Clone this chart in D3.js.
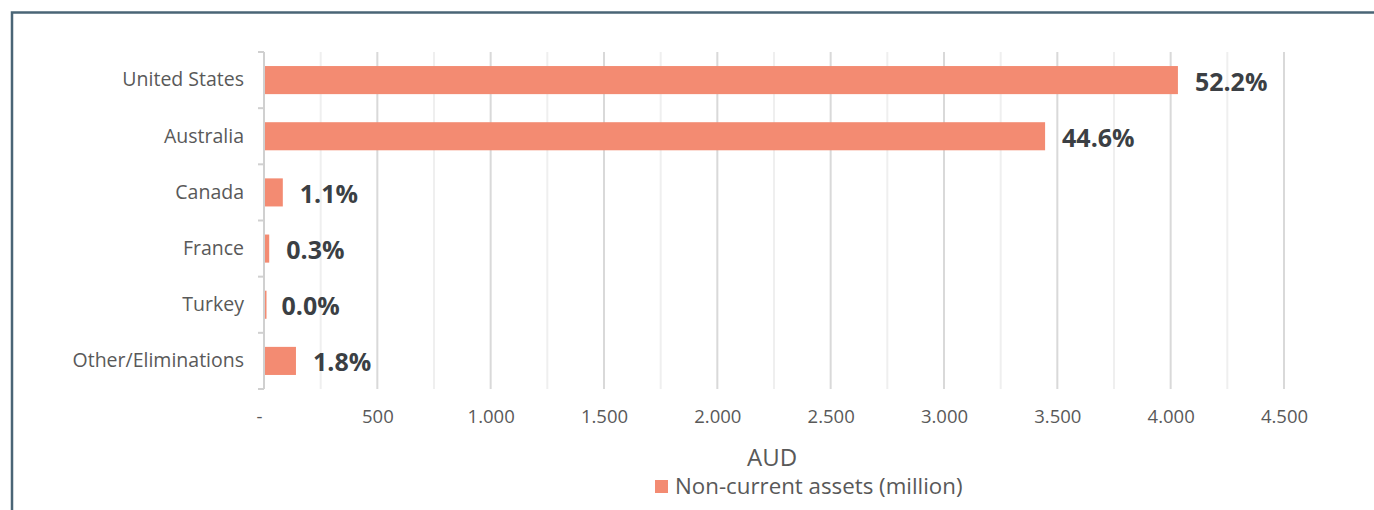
<!DOCTYPE html>
<html>
<head>
<meta charset="utf-8">
<script src="https://cdn.jsdelivr.net/npm/d3@7/dist/d3.min.js"></script>
<style>
  html, body { margin: 0; padding: 0; background: #fff; }
  svg { display: block; font-family: "Open Sans", "Noto Sans", sans-serif; }
</style>
</head>
<body>
<svg id="chart" width="1374" height="510"></svg>
<script>
// Non-current assets by region (AUD million)
const categories = ["United States", "Australia", "Canada", "France", "Turkey", "Other/Eliminations"];
const assetValues = [4032, 3446, 83, 23, 2, 141];
const shareLabels = ["52.2%", "44.6%", "1.1%", "0.3%", "0.0%", "1.8%"];
const xTickValues = [0, 500, 1000, 1500, 2000, 2500, 3000, 3500, 4000, 4500];
const xTickLabels = ["-", "500", "1.000", "1.500", "2.000", "2.500", "3.000", "3.500", "4.000", "4.500"];
const minorGridValues = [250, 750, 1250, 1750, 2250, 2750, 3250, 3750, 4250];
const seriesName = "Non-current assets (million)";
const axisTitle = "AUD";

const svg = d3.select("#chart");
const barColor = "#f38b72";
const textGray = "#595959";

// Outer frame (open on the right and bottom)
svg.append("rect")
  .attr("x", 12).attr("y", 12.5)
  .attr("width", 1400).attr("height", 520)
  .attr("fill", "none")
  .attr("stroke", "#4a6576")
  .attr("stroke-width", 2.5);

const plot = { left: 264, right: 1284, top: 52, bottom: 389 };

const x = d3.scaleLinear().domain([0, 4500]).range([plot.left, plot.right]);
const y = d3.scaleBand().domain(categories).range([plot.top, plot.bottom]).paddingInner(0.5).paddingOuter(0.25);
const yTicks = d3.scaleBand().domain(categories).range([plot.top, plot.bottom]);

// Gridlines
svg.append("g").selectAll("line").data(minorGridValues).join("line")
  .attr("x1", d => x(d)).attr("x2", d => x(d))
  .attr("y1", plot.top).attr("y2", plot.bottom)
  .attr("stroke", "#efefef").attr("stroke-width", 2);
svg.append("g").selectAll("line").data(xTickValues.slice(1)).join("line")
  .attr("x1", d => x(d)).attr("x2", d => x(d))
  .attr("y1", plot.top).attr("y2", plot.bottom)
  .attr("stroke", "#d9d9d9").attr("stroke-width", 2);

// X tick labels
const xAxis = d3.axisBottom(x)
  .tickValues(xTickValues)
  .tickSize(0)
  .tickPadding(0)
  .tickFormat((d, i) => xTickLabels[i]);
const gx = svg.append("g").attr("transform", `translate(0, ${plot.bottom + 21})`).call(xAxis);
gx.select(".domain").remove();
gx.selectAll("text")
  .attr("font-size", 18.5).attr("fill", textGray)
  .attr("font-family", "Open Sans, sans-serif")
  .attr("dx", (d) => d === 0 ? -5 : 0);

// Y axis
const yAxis = d3.axisLeft(yTicks).tickSize(0).tickPadding(20);
const gy = svg.append("g").attr("transform", `translate(${plot.left}, 0)`).call(yAxis);
gy.select(".domain").attr("stroke", "#d0d0d0").attr("stroke-width", 2)
  .attr("d", `M0,${plot.top}V${plot.bottom}`);
gy.selectAll("text")
  .attr("font-size", 19.5).attr("fill", textGray)
  .attr("font-family", "Open Sans, sans-serif");
// Category separator ticks
const sepPositions = categories.map(c => yTicks(c)).concat([plot.bottom]);
svg.append("g").selectAll("line").data(sepPositions).join("line")
  .attr("x1", plot.left - 6).attr("x2", plot.left)
  .attr("y1", d => d).attr("y2", d => d)
  .attr("stroke", "#d0d0d0").attr("stroke-width", 2);

// Bars
svg.append("g").selectAll("rect").data(categories).join("rect")
  .attr("x", x(0) + 1)
  .attr("y", d => y(d))
  .attr("width", (d, i) => Math.max(1.5, x(assetValues[i]) - x(0) - 1))
  .attr("height", y.bandwidth())
  .attr("fill", barColor);

// Value labels
svg.append("g").selectAll("text").data(categories).join("text")
  .attr("x", (d, i) => x(assetValues[i]) + 17)
  .attr("y", d => y(d) + y.bandwidth() / 2 + 1.5)
  .attr("dy", "0.36em")
  .attr("font-size", 25).attr("font-weight", 700)
  .attr("fill", "#3b3f44")
  .text((d, i) => shareLabels[i]);

// Axis title
svg.append("text")
  .attr("x", 772).attr("y", 466)
  .attr("text-anchor", "middle")
  .attr("font-size", 24).attr("fill", textGray)
  .text(axisTitle);

// Legend
svg.append("rect")
  .attr("x", 655).attr("y", 480).attr("width", 13).attr("height", 13)
  .attr("fill", barColor);
svg.append("text")
  .attr("x", 675).attr("y", 494)
  .attr("font-size", 22.3).attr("fill", textGray)
  .text(seriesName);
</script>
</body>
</html>
